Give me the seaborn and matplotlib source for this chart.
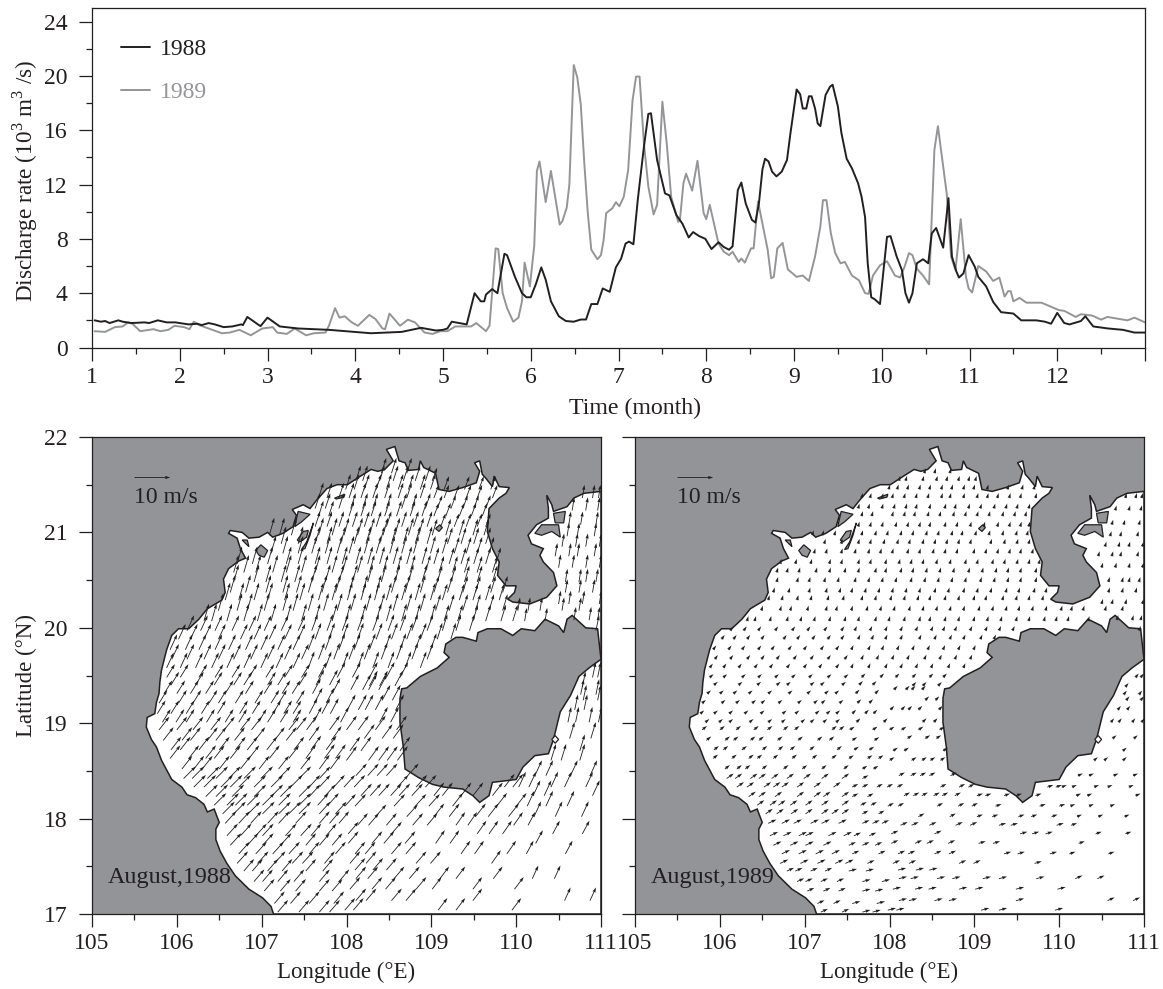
import numpy as np
import pandas as pd
import matplotlib
matplotlib.use('Agg')
from matplotlib import pyplot as plt
from matplotlib.ticker import MultipleLocator
import seaborn as sns

# river discharge (month, 10^3 m3/s)
t_1988 = [1.03,1.1,1.15,1.2,1.3,1.35,1.45,1.6,1.65,1.75,1.85,1.95,2.1,2.2,2.25,2.33,2.4,2.5,2.6,2.7,2.72,2.77,2.92,3.0,3.14,3.35,3.7,4.18,4.53,4.75,4.92,5.0,5.05,5.1,5.27,5.36,5.43,5.47,5.49,5.56,5.62,5.7,5.73,5.82,5.9,5.95,6.0,6.06,6.12,6.17,6.23,6.32,6.4,6.49,6.57,6.63,6.69,6.76,6.82,6.9,6.97,7.03,7.08,7.12,7.17,7.22,7.29,7.34,7.37,7.44,7.48,7.53,7.58,7.66,7.73,7.8,7.85,7.92,7.99,8.06,8.14,8.2,8.26,8.3,8.36,8.4,8.45,8.52,8.56,8.6,8.64,8.67,8.71,8.75,8.8,8.86,8.92,8.96,9.03,9.07,9.1,9.14,9.17,9.2,9.24,9.27,9.3,9.36,9.41,9.44,9.5,9.54,9.6,9.66,9.73,9.77,9.81,9.84,9.88,9.92,9.98,10.02,10.06,10.1,10.17,10.23,10.27,10.31,10.35,10.4,10.47,10.53,10.57,10.62,10.7,10.76,10.8,10.85,10.88,10.93,10.99,11.06,11.1,11.19,11.27,11.36,11.5,11.59,11.76,11.86,11.93,12.0,12.08,12.14,12.27,12.32,12.41,12.58,12.75,12.88,13.0]
q_1988 = [2.0,1.9,1.95,1.8,2.0,1.9,1.8,1.85,1.8,2.0,1.85,1.85,1.7,1.75,1.65,1.8,1.7,1.5,1.55,1.7,1.65,2.25,1.57,2.2,1.55,1.4,1.3,1.05,1.15,1.45,1.25,1.3,1.4,1.9,1.7,4.0,3.4,3.4,3.9,4.3,4.0,6.9,6.8,5.2,4.0,3.7,3.7,4.7,5.9,5.0,3.4,2.3,1.95,1.9,2.06,2.06,3.2,3.2,4.35,4.1,5.9,6.55,7.65,7.8,7.6,10.9,14.8,17.2,17.25,13.8,12.7,11.35,11.2,9.75,9.1,8.1,8.5,8.2,8.0,7.25,7.75,7.4,7.2,7.45,11.6,12.15,10.6,9.4,9.2,10.6,13.1,13.9,13.7,12.95,12.6,12.95,13.8,15.8,19.0,18.65,17.6,17.6,18.5,18.5,17.6,16.5,16.3,18.6,19.2,19.35,17.75,15.8,13.9,13.2,12.1,11.1,9.6,6.2,3.7,3.55,3.2,5.7,8.15,8.2,6.7,5.7,4.0,3.3,4.0,6.2,6.5,6.2,8.4,8.8,7.35,11.0,6.7,5.6,5.15,5.45,6.8,5.95,5.2,4.5,3.35,2.6,2.5,2.0,2.0,1.9,1.75,2.55,1.8,1.7,1.95,2.3,1.55,1.4,1.3,1.1,1.1]
t_1989 = [1.03,1.15,1.26,1.35,1.41,1.46,1.55,1.7,1.78,1.87,1.94,2.05,2.11,2.16,2.22,2.37,2.48,2.57,2.68,2.81,2.94,3.06,3.11,3.22,3.31,3.44,3.53,3.66,3.7,3.77,3.82,3.88,3.96,4.03,4.16,4.23,4.31,4.34,4.39,4.51,4.6,4.68,4.79,4.88,4.97,5.05,5.14,5.32,5.38,5.49,5.53,5.6,5.63,5.68,5.73,5.8,5.86,5.9,5.93,5.99,6.04,6.07,6.1,6.17,6.23,6.33,6.36,6.41,6.44,6.49,6.53,6.57,6.61,6.65,6.69,6.76,6.8,6.83,6.86,6.93,6.97,7.01,7.06,7.11,7.16,7.2,7.24,7.29,7.34,7.4,7.44,7.5,7.55,7.6,7.68,7.7,7.74,7.77,7.84,7.9,7.97,8.0,8.04,8.14,8.2,8.26,8.3,8.37,8.4,8.44,8.51,8.54,8.59,8.64,8.7,8.74,8.77,8.81,8.87,8.93,9.03,9.1,9.17,9.24,9.3,9.33,9.37,9.42,9.47,9.53,9.58,9.66,9.74,9.81,9.85,9.9,9.98,10.06,10.15,10.21,10.26,10.31,10.35,10.4,10.47,10.54,10.6,10.64,10.7,10.74,10.79,10.84,10.9,10.96,10.99,11.03,11.1,11.19,11.27,11.34,11.4,11.44,11.47,11.5,11.57,11.65,11.82,12.02,12.08,12.21,12.27,12.4,12.5,12.57,12.8,12.88,13.0]
q_1989 = [1.2,1.15,1.5,1.55,1.85,1.75,1.2,1.35,1.2,1.3,1.6,1.5,1.35,1.9,1.65,1.3,1.05,1.1,1.3,0.9,1.4,1.5,1.1,1.0,1.4,0.9,1.05,1.1,1.6,2.9,2.2,2.3,1.85,1.6,2.4,2.1,1.4,1.35,2.5,1.6,2.05,1.85,1.1,1.0,1.2,1.2,1.55,1.55,1.8,1.2,1.6,7.3,7.25,4.0,2.9,1.9,2.2,3.4,6.25,4.5,7.5,13.0,13.7,10.7,13.0,9.05,9.3,10.3,12.0,20.8,19.9,17.9,13.6,9.9,7.2,6.5,6.8,7.9,9.9,10.25,10.7,10.4,11.1,13.05,18.2,19.95,19.95,15.0,11.85,9.8,10.5,18.1,15.0,11.1,9.25,9.4,12.1,12.8,11.55,13.75,9.9,9.45,10.5,7.65,7.05,6.8,7.05,6.3,6.55,6.25,7.3,7.3,10.75,9.15,7.2,5.1,5.2,7.3,7.7,5.75,5.2,5.3,4.9,6.7,8.9,10.85,10.85,8.4,6.95,6.2,6.3,5.3,4.95,4.0,3.95,5.3,6.05,6.35,5.3,5.15,5.95,6.95,6.8,5.8,5.3,4.65,14.55,16.3,13.3,11.35,6.7,5.7,9.45,5.2,4.35,4.05,6.0,5.6,4.9,5.15,3.75,4.15,4.15,3.4,3.65,3.3,3.3,2.75,2.7,2.25,2.45,2.35,2.05,2.25,2.0,2.2,1.85]

# coastlines of the gulf (degrees)
sea_lon = [107.14,107.11,107.01,106.85,106.69,106.59,106.51,106.46,106.46,106.50,106.44,106.36,106.32,106.22,106.12,106.06,105.94,105.82,105.76,105.70,105.64,105.65,105.74,105.76,105.79,105.80,105.82,105.88,105.94,106.02,106.14,106.26,106.36,106.53,106.57,106.55,106.61,106.73,106.81,106.75,106.71,106.61,106.63,106.77,106.85,106.97,107.07,107.13,107.25,107.37,107.41,107.36,107.49,107.57,107.65,107.77,107.89,108.01,108.13,108.29,108.37,108.45,108.55,108.47,108.57,108.62,108.69,108.73,108.85,108.87,108.91,109.05,109.09,109.21,109.37,109.53,109.57,109.51,109.57,109.60,109.64,109.72,109.74,109.80,109.92,109.88,109.80,109.68,109.66,109.72,109.80,109.78,109.88,110.0,109.98,109.90,109.96,110.16,110.36,110.48,110.44,110.32,110.28,110.32,110.18,110.14,110.24,110.38,110.38,110.36,110.42,110.44,110.60,110.68,110.80,111.0,111.0]
sea_lat = [17.0,17.08,17.17,17.26,17.40,17.53,17.66,17.78,17.89,17.96,18.10,18.07,18.15,18.22,18.25,18.33,18.41,18.61,18.75,18.83,18.96,19.06,19.10,19.22,19.31,19.43,19.56,19.77,19.92,19.99,19.99,20.09,20.20,20.29,20.37,20.51,20.62,20.70,20.73,20.83,20.94,20.99,21.02,21.00,20.94,20.95,21.00,20.95,20.99,21.06,21.18,21.24,21.29,21.25,21.34,21.46,21.50,21.50,21.57,21.66,21.64,21.66,21.75,21.87,21.90,21.75,21.73,21.65,21.66,21.75,21.68,21.62,21.45,21.43,21.47,21.52,21.64,21.73,21.75,21.61,21.57,21.48,21.59,21.48,21.47,21.41,21.36,21.25,21.01,20.83,20.69,20.55,20.44,20.44,20.37,20.30,20.27,20.25,20.32,20.44,20.58,20.69,20.76,20.83,20.88,20.97,21.08,21.15,21.25,21.39,21.29,21.22,21.27,21.36,21.41,21.43,17.0]
hainan_lon = [108.71,108.87,109.07,109.21,109.15,109.17,109.29,109.37,109.53,109.55,109.66,109.82,109.96,110.06,110.22,110.34,110.50,110.56,110.60,110.66,110.82,110.96,111.0,110.86,110.74,110.64,110.52,110.44,110.38,110.22,110.08,110.0,109.72,109.68,109.57,109.49,109.37,109.15,109.01,108.85,108.69,108.67,108.63,108.63,108.65]
hainan_lat = [19.37,19.49,19.58,19.69,19.74,19.83,19.90,19.90,19.86,19.95,19.99,19.99,19.92,19.99,19.97,20.09,20.02,19.95,20.09,20.13,20.00,19.99,19.67,19.58,19.49,19.29,19.12,18.83,18.68,18.66,18.54,18.41,18.38,18.24,18.17,18.24,18.31,18.33,18.36,18.43,18.52,18.75,19.01,19.26,19.36]
island_lon = [[106.93,106.99,107.07,107.03,106.97],[106.77,106.85,106.83],[107.42,107.49,107.55,107.53,107.45],[107.47,107.53,107.61,107.57,107.51],[107.43,107.57,107.47,107.39],[107.86,107.98,107.97,107.88],[109.05,109.10,109.13,109.09],[110.22,110.30,110.50,110.52,110.42,110.30],[110.44,110.58,110.56,110.46]]
island_lat = [[20.81,20.87,20.81,20.74,20.76],[20.92,20.85,20.92],[20.92,21.01,21.02,20.95,20.90],[20.82,20.90,21.10,20.97,20.83],[21.22,21.19,21.11,21.06],[21.36,21.40,21.37,21.35],[21.04,21.08,21.05,21.01],[20.99,21.08,21.08,20.95,21.01,20.97],[21.20,21.22,21.10,21.10]]
lagoon_lon = [110.42,110.46,110.50,110.46]
lagoon_lat = [18.83,18.87,18.83,18.79]

# arrow tails, row by row
arrow_lat = [21.62,21.54,21.45,21.36,21.25,21.17,21.06,20.97,20.88,20.78,20.67,20.58,20.48,20.37,20.29,20.18,20.07,19.97,19.88,19.77,19.67,19.58,19.48,19.39,
             21.36,21.23,21.08,20.96,20.85,20.75,20.63,20.48,20.37,20.25,20.18,20.08,19.97,19.48,19.38,19.30,
             19.40,19.31,19.21,19.10,19.01,18.93,18.82,18.72,18.63,18.52,18.42,18.33,18.23,18.14,18.05,17.95,17.82,17.72,17.63,17.53,17.45,17.34,17.24,17.11,17.02,
             19.35,19.24,19.14,19.01,18.93,18.84,18.71,18.61,18.45,18.33,18.24,18.13,18.02,17.93,17.84,17.74,17.63,17.53,17.46,17.37,17.26,17.14,17.04]
arrow_lon = [
    [108.41,108.53,108.71],
    [108.11,108.19,108.39,108.55,108.67,108.81,108.93,109.01],
    [107.99,108.09,108.21,108.35,108.47,108.61,108.73,108.87,108.99,109.15,109.39,109.56,109.70],
    [107.67,107.77,107.91,108.03,108.17,108.31,108.45,108.61,108.71,108.87,109.03,109.15,109.27,109.41,109.54,109.72],
    [107.63,107.75,107.91,108.05,108.19,108.31,108.47,108.65,108.77,108.93,109.07,109.23,109.37,109.50,109.64],
    [107.67,107.79,108.03,108.17,108.29,108.45,108.59,108.75,108.89,109.03,109.17,109.33,109.47,109.60],
    [107.63,107.77,107.91,108.07,108.21,108.35,108.47,108.65,108.79,108.95,109.11,109.27,109.41,109.54,109.64],
    [107.09,107.21,107.35,107.67,107.83,107.97,108.13,108.27,108.43,108.57,108.73,108.85,109.01,109.17,109.33,109.49,109.62],
    [107.23,107.43,107.63,107.77,107.93,108.09,108.23,108.39,108.53,108.67,108.81,108.95,109.19,109.35,109.50,109.64],
    [107.11,107.25,107.43,107.59,107.75,107.89,108.03,108.21,108.35,108.51,108.65,108.79,108.99,109.13,109.27,109.41,109.54,109.68],
    [106.71,106.89,107.07,107.29,107.43,107.63,107.77,107.95,108.11,108.25,108.39,108.55,108.71,108.89,109.03,109.21,109.35,109.50,109.64,109.76],
    [106.67,106.79,106.93,107.13,107.29,107.47,107.63,107.83,107.95,108.13,108.27,108.43,108.59,108.75,108.93,109.09,109.25,109.39,109.54,109.72],
    [106.67,106.91,107.05,107.23,107.39,107.59,107.75,107.91,108.07,108.25,108.41,108.57,108.73,108.89,109.07,109.23,109.39,109.54,109.72],
    [106.63,106.81,107.05,107.25,107.41,107.55,107.71,107.87,108.03,108.19,108.35,108.53,108.69,108.87,109.03,109.19,109.37,109.52,109.70,109.84],
    [106.57,106.73,106.91,107.07,107.27,107.45,107.67,107.83,108.01,108.17,108.33,108.47,108.65,108.81,108.99,109.13,109.33,109.49,109.64,109.80],
    [106.49,106.71,106.83,107.03,107.25,107.37,107.55,107.73,107.89,108.05,108.23,108.39,108.55,108.71,108.87,109.05,109.21,109.37,109.52,109.68,109.84,110.02,110.14,110.28],
    [106.32,106.41,106.59,106.79,106.95,107.11,107.29,107.47,107.63,107.83,107.99,108.17,108.35,108.47,108.65,108.81,108.99,109.15,109.31,109.49,109.64,109.82,109.96,110.10,110.34],
    [106.12,106.28,106.45,106.65,106.85,107.03,107.23,107.43,107.59,107.77,107.95,108.13,108.31,108.49,108.63,108.77,108.95,109.13,109.29,109.45],
    [106.02,106.16,106.32,106.49,106.75,106.91,107.09,107.27,107.43,107.63,107.79,107.95,108.13,108.35,108.53,108.71,108.87,109.07,109.23],
    [105.92,106.10,106.26,106.45,106.61,106.81,106.99,107.19,107.37,107.55,107.75,107.91,108.09,108.27,108.45,108.63,108.81,108.99],
    [105.94,106.12,106.32,106.49,106.67,106.87,107.07,107.27,107.47,107.67,107.85,108.03,108.21,108.41,108.59,108.77,108.95],
    [105.88,106.04,106.22,106.41,106.59,106.79,106.99,107.17,107.37,107.55,107.75,107.95,108.13,108.31,108.49,108.69,108.87],
    [105.88,106.04,106.26,106.45,106.65,106.85,107.05,107.27,107.47,107.67,107.89,108.07,108.27,108.47,108.63],
    [108.27,108.39,108.57],
    [110.78,110.90,110.97],
    [110.66,110.82,110.96],
    [110.62,110.76,110.94],
    [110.60,110.72,110.92],
    [110.54,110.70,110.82,110.98],
    [110.46,110.62,110.72,110.92],
    [110.50,110.66,110.82,110.98],
    [110.58,110.74,110.82,110.94],
    [110.58,110.74,110.90],
    [110.50,110.62,110.78,110.98],
    [110.54,110.74],
    [110.68,110.86,110.96],
    [110.94],
    [110.90,110.96],
    [110.78],
    [110.76,110.94],
    [105.93,106.22,106.44,106.67,106.79,107.07,107.19,107.44,107.64,107.80],
    [105.85,106.00,106.16,106.34,106.57,106.81,107.03,107.24,107.36,107.60,107.83],
    [105.79,106.02,106.19,106.38,106.49,106.69,106.92,107.11,107.20,107.41,107.62,107.76],
    [105.77,105.93,106.11,106.29,106.48,106.74,106.89,107.13,107.26,107.37,107.56,107.71,107.81],
    [105.83,105.99,106.11,106.35,106.57,106.73,106.96,107.07,107.22,107.37,107.61,107.93],
    [105.79,106.00,106.19,106.40,106.56,106.75,106.88,107.32,107.41,107.53,107.80],
    [105.84,106.06,106.16,106.36,106.46,106.68,106.92,107.15,107.29,107.56,107.82],
    [105.93,106.04,106.26,106.50,106.69,106.83,107.06,107.38,107.58,107.76],
    [105.92,106.14,106.34,106.44,106.63,106.85,107.09,107.32,107.52,107.74,107.87],
    [106.06,106.20,106.30,106.50,106.75,106.97,107.20,107.46,107.68,107.81],
    [106.08,106.18,106.36,106.46,106.61,106.79,106.99,107.20,107.44,107.68],
    [106.20,106.32,106.52,106.63,106.73,106.91,107.11,107.34,107.56,107.68,107.85],
    [106.34,106.46,106.65,106.91,107.11,107.22,107.44,107.56,107.74],
    [106.44,106.59,106.69,106.83,107.01,107.20,107.44,107.66,107.78],
    [106.54,106.67,106.84,107.01,107.20,107.32,107.44,107.68,107.87],
    [106.57,106.73,106.87,107.07,107.20,107.40,107.68,107.80,107.91],
    [106.59,106.75,106.93,107.01,107.28,107.46,107.58,107.76],
    [106.63,106.83,107.01,107.22,107.52,107.68,107.83],
    [106.73,106.93,107.13,107.32,107.56,107.87],
    [106.71,106.95,107.15,107.36,107.48,107.74],
    [106.79,106.89,107.07,107.24,107.52,107.72],
    [106.91,107.01,107.19,107.38,107.68,107.91],
    [107.03,107.22,107.40,107.68,107.83],
    [107.15,107.34,107.56,107.85],
    [107.19,107.44,107.68,107.80],
    [108.05,108.19,108.26,108.38],
    [108.42,108.54,110.79,110.96],
    [108.01,108.14,108.22,108.34,108.58,110.69,110.80],
    [108.39,108.52,110.61,110.70,110.86,110.97],
    [108.00,108.14,108.34,108.59],
    [108.21,108.42,108.55,110.63,110.88],
    [108.04,108.17,108.63,110.75],
    [108.00,108.26,108.38,108.48,108.60,110.41,110.53,110.75],
    [108.11,108.25,108.36,108.47,108.72,110.22,110.35,110.64,110.87],
    [107.97,108.09,108.60,108.82,108.93,109.86,109.96,110.03,110.15,110.41,110.57,110.82],
    [108.17,108.28,108.38,108.52,108.62,108.77,109.03,109.13,109.35,109.49,109.72,110.20,110.33,110.90],
    [107.98,108.10,108.56,108.81,108.97,109.25,109.77,110.00,110.13,110.35,110.60],
    [108.34,108.71,109.03,109.21,109.52,109.67,109.91,110.21,110.46,110.77],
    [108.13,108.26,108.47,108.78,108.95,109.29,109.43,109.97,110.14],
    [108.02,108.53,109.54,109.68,109.84,110.43,110.78],
    [108.02,108.30,108.44,108.69,109.05,109.22,110.23],
    [108.10,108.22,108.53,108.70,109.35,109.51,109.89,110.12,110.58],
    [108.04,108.23,108.82,108.99,109.71],
    [108.10,108.31,108.47],
    [108.11,108.25,108.56,108.74,109.10,109.29,109.73,110.19,110.45],
    [108.04,108.30,108.46,108.82,109.01,109.49,109.98],
    [108.11,108.23,108.53,108.70,109.49,110.57,110.87],
    [107.98,108.08,109.08,109.29,109.95],
]

# monthly mean wind read per block of the map (m/s): rows follow band_lat, columns band_lon
band_lat = [17.5,18.0,18.5,19.0,19.5,20.0,21.0]
band_lon = [107.5,109.0,110.0]
u_1988 = [[2.9,2.9,2.6,1.7],[3.1,2.9,2.6,2.0],[3.4,3.1,2.9,2.0],[2.9,2.9,2.9,1.4],[2.3,2.3,2.3,0.9],[2.0,1.7,1.4,0.9],[1.4,1.4,1.4,0.6],[1.4,1.4,1.4,0.6]]
v_1988 = [[3.4,3.4,3.4,3.7],[3.4,3.4,3.7,3.7],[3.4,3.4,3.7,4.3],[3.7,4.0,4.0,4.6],[3.7,4.3,4.3,4.3],[4.3,4.6,4.6,4.3],[4.9,4.9,4.6,3.7],[4.6,4.3,3.7,3.7]]
u_1989 = [[2.0,2.3,2.3,2.0],[2.3,2.0,2.0,1.7],[2.0,1.7,1.7,1.4],[1.4,1.4,1.4,1.1],[1.1,1.1,1.1,0.9],[0.9,0.6,0.6,0.6],[0.4,0.4,0.4,0.4],[0.4,0.4,0.4,0.4]]
v_1989 = [[0.9,0.6,0.6,0.9],[1.1,0.9,0.6,0.6],[1.4,0.9,0.6,0.6],[1.1,0.9,0.9,0.9],[0.9,1.1,1.1,1.1],[1.2,1.3,1.3,1.3],[1.4,1.4,1.4,1.4],[1.4,1.4,1.4,1.4]]

ink = '#231f20'
land = '#929497'
line_gray = '#939598'

sns.set_theme(style='ticks')
plt.rcParams['font.family'] = ['Liberation Serif', 'DejaVu Serif']
plt.rcParams['mathtext.fontset'] = 'custom'
plt.rcParams['mathtext.rm'] = 'Liberation Serif'
plt.rcParams['font.size'] = 17
plt.rcParams['text.color'] = ink
plt.rcParams['axes.labelcolor'] = ink
plt.rcParams['axes.edgecolor'] = ink
plt.rcParams['xtick.color'] = ink
plt.rcParams['ytick.color'] = ink

W, H = 1163, 989
fig = plt.figure(figsize=(W / 100, H / 100), dpi=100, facecolor='white')

def add_axes(left, right, top, bottom):
    return fig.add_axes([left / W, 1 - bottom / H, (right - left) / W, (bottom - top) / H])

def style_ticks(ax):
    ax.tick_params(which='major', direction='out', length=9.4, width=0.9, labelsize=17)
    ax.tick_params(which='minor', direction='out', length=4.6, width=0.9)
    ax.tick_params(axis='x', which='major', pad=4.5)
    ax.tick_params(axis='y', which='major', pad=8)
    for s in ax.spines.values():
        s.set_linewidth(0.9)
        s.set_color(ink)

# top panel
ax = add_axes(92, 1145, 8, 347.5)
df_88 = pd.DataFrame({'t': t_1988, 'q': q_1988})
df_89 = pd.DataFrame({'t': t_1989, 'q': q_1989})
sns.lineplot(data=df_89, x='t', y='q', color=line_gray, lw=1.4, estimator=None, sort=False, label='1989', ax=ax)
sns.lineplot(data=df_88, x='t', y='q', color=ink, lw=1.4, estimator=None, sort=False, label='1988', ax=ax)
ax.set_xlim(1, 13)
ax.set_ylim(0, 25)
ax.xaxis.set_major_locator(MultipleLocator(1))
ax.xaxis.set_minor_locator(MultipleLocator(0.5))
ax.yaxis.set_major_locator(MultipleLocator(4))
ax.yaxis.set_minor_locator(MultipleLocator(2))
ax.set_xticks(range(1, 14))
ax.set_xticklabels([str(m) for m in range(1, 13)] + [''])
style_ticks(ax)
ax.set_xlabel('Time (month)', fontsize=17.2)
ax.xaxis.set_label_coords((635 - 92) / 1053, -(419 - 347.5) / 339.5, transform=ax.transAxes)
ax.xaxis.label.set_va('bottom')
ax.set_ylabel(r'Discharge rate (10$^{3}$ m$^{3}$ /s)', fontsize=16.7)
ax.yaxis.set_label_coords((40 - 92) / 1053, 0.492)
handles, labels = ax.get_legend_handles_labels()
ax.legend(handles[::-1], labels[::-1], loc='upper left', bbox_to_anchor=(0.0275, 0.909), frameon=False,
          borderpad=0, borderaxespad=0, handlelength=1.25, handletextpad=0.42, labelspacing=0.9,
          labelcolor='linecolor', fontsize=17)

# map panels
panels = [(92, 601, u_1988, v_1988, 'August,1988'), (635, 1144, u_1989, v_1989, 'August,1989')]
for i, (left, right, u_tab, v_tab, name) in enumerate(panels):
    ax = add_axes(left, right, 437, 914)
    ax.set_facecolor(land)
    ax.fill(sea_lon, sea_lat, facecolor='white', edgecolor=ink, lw=1.1, zorder=1)
    ax.fill(hainan_lon, hainan_lat, facecolor=land, edgecolor=ink, lw=1.1, zorder=2)
    for lo, la in zip(island_lon, island_lat):
        ax.fill(lo, la, facecolor=land, edgecolor=ink, lw=0.9, zorder=2)
    ax.fill(lagoon_lon, lagoon_lat, facecolor='white', edgecolor=ink, lw=0.9, zorder=2)

    lons = np.concatenate(arrow_lon)
    lats = np.concatenate([[la] * len(lo) for la, lo in zip(arrow_lat, arrow_lon)])
    row = np.searchsorted(band_lat, lats)
    col = np.searchsorted(band_lon, lons)
    u = np.array(u_tab)[row, col]
    v = np.array(v_tab)[row, col]
    arrow_style = dict(angles='uv', scale_units='inches', scale=28.0, units='dots', width=0.85,
                       headwidth=3.8, headlength=6, headaxislength=5.5, color=ink, zorder=3)
    ax.quiver(lons, lats, u, v, **arrow_style)
    ax.quiver([105.5], [21.58], [10], [0], **arrow_style)
    ax.text(105.5, 21.37, '10 m/s', fontsize=17, va='center', ha='left')
    ax.text(105.19, 17.38, name, fontsize=17.4, va='center', ha='left', zorder=4)

    ax.set_xlim(105, 111)
    ax.set_ylim(17, 22)
    ax.xaxis.set_major_locator(MultipleLocator(1))
    ax.xaxis.set_minor_locator(MultipleLocator(0.5))
    ax.yaxis.set_major_locator(MultipleLocator(1))
    ax.yaxis.set_minor_locator(MultipleLocator(0.5))
    style_ticks(ax)
    ax.set_xlabel('Longitude (°E)', fontsize=16.5)
    ax.xaxis.set_label_coords(0.5, -(983 - 914) / 477)
    ax.xaxis.label.set_va('bottom')
    if i == 0:
        ax.set_ylabel('Latitude (°N)', fontsize=16.5)
        ax.yaxis.set_label_coords((37 - 92) / 509, 0.5)
    else:
        ax.set_yticklabels([])

fig.savefig('out.png', dpi=100)
